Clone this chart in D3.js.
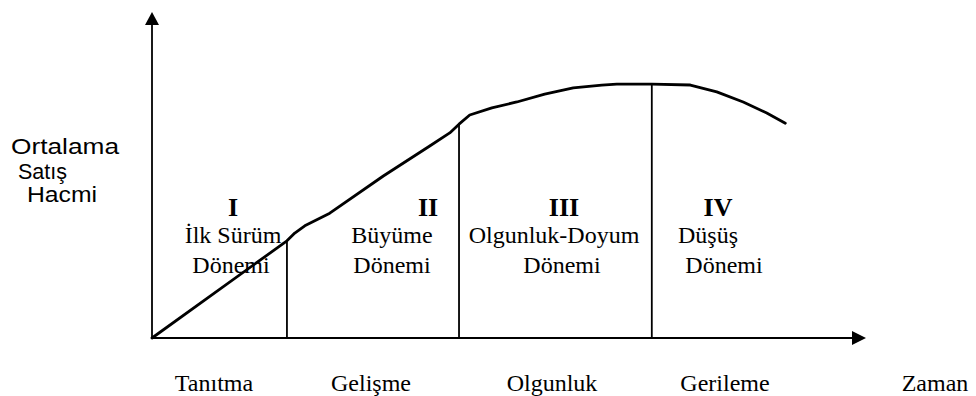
<!DOCTYPE html>
<html>
<head>
<meta charset="utf-8">
<script src="https://cdn.jsdelivr.net/npm/d3@7"></script>
<style>
  html, body { margin: 0; padding: 0; background: #fff; }
  svg { display: block; }
</style>
</head>
<body>
<div id="chart"></div>
<script>
// Product life cycle: average sales volume over time
const curveTime  = [0, 18.9, 20.0, 21.4, 24.9, 32.4, 38.9, 41.7, 43.0, 44.5, 47.6, 51.1, 55.0, 59.0, 63.0, 65.1, 70.0, 75.4, 79.1, 82.8, 86.1, 88.7];
const curveSales = [0, 29.8, 32.2, 34.4, 38.3, 49.7, 58.9, 62.9, 65.6, 68.4, 70.6, 72.4, 74.8, 76.7, 77.6, 77.9, 77.9, 77.6, 75.5, 72.4, 69.0, 65.9];

// Stage boundaries on the time axis
const stageBounds = [18.9, 43.0, 70.0];

const stageNumerals = ["I", "II", "III", "IV"];
const stageNames = [["İlk Sürüm", "Dönemi"], ["Büyüme", "Dönemi"], ["Olgunluk-Doyum", "Dönemi"], ["Düşüş", "Dönemi"]];
const phaseLabels = ["Tanıtma", "Gelişme", "Olgunluk", "Gerileme"];
const timeLabel = "Zaman";
const salesLabel = ["Ortalama", "Satış", "Hacmi"];

const W = 976, H = 396;
const svg = d3.select("#chart").append("svg").attr("width", W).attr("height", H);

const x = d3.scaleLinear().domain([0, 100]).range([152, 866]);
const y = d3.scaleLinear().domain([0, 100]).range([338, 12]);

const serif = "'Liberation Serif', 'Times New Roman', serif";
const sans = "'Liberation Sans', Arial, sans-serif";

// Axes
svg.append("line")
  .attr("x1", x(0)).attr("y1", y(0)).attr("x2", x(0)).attr("y2", y(100) + 10)
  .attr("stroke", "#000").attr("stroke-width", 1.8);
svg.append("path")
  .attr("d", `M${x(0)},${y(100)} L${x(0) - 7},${y(100) + 13} L${x(0) + 7},${y(100) + 13} Z`)
  .attr("fill", "#000");

svg.append("line")
  .attr("x1", x(0)).attr("y1", y(0)).attr("x2", x(100) - 10).attr("y2", y(0))
  .attr("stroke", "#000").attr("stroke-width", 2);
svg.append("path")
  .attr("d", `M${x(100)},${y(0)} L${x(100) - 14},${y(0) - 7} L${x(100) - 14},${y(0) + 7} Z`)
  .attr("fill", "#000");

// Stage dividers, from the axis up to the curve
const pts = curveTime.map((t, i) => [t, curveSales[i]]);
function salesAt(t) {
  for (let i = 1; i < pts.length; i++) {
    if (t <= pts[i][0]) {
      const [t0, s0] = pts[i - 1], [t1, s1] = pts[i];
      return s0 + (s1 - s0) * (t - t0) / (t1 - t0);
    }
  }
  return pts[pts.length - 1][1];
}
svg.selectAll("line.divider").data(stageBounds).enter().append("line")
  .attr("class", "divider")
  .attr("x1", d => x(d)).attr("x2", d => x(d))
  .attr("y1", y(0)).attr("y2", d => y(salesAt(d)))
  .attr("stroke", "#000").attr("stroke-width", 1.8);

// Sales curve
const line = d3.line().x(d => x(d[0])).y(d => y(d[1])).curve(d3.curveLinear);
svg.append("path")
  .datum(pts)
  .attr("d", line)
  .attr("fill", "none")
  .attr("stroke", "#000")
  .attr("stroke-width", 2.8)
  .attr("stroke-linejoin", "round")
  .attr("stroke-linecap", "round");

// Stage numerals and names
const numeralX = [233, 428, 564, 718];
const nameX = [[233, 231], [392, 392], [554, 562], [708, 724]];
svg.selectAll("text.numeral").data(stageNumerals).enter().append("text")
  .attr("class", "numeral")
  .attr("x", (d, i) => numeralX[i]).attr("y", 216)
  .attr("text-anchor", "middle")
  .attr("font-family", serif).attr("font-weight", "bold").attr("font-size", 26)
  .text(d => d);

stageNames.forEach((lines, i) => {
  lines.forEach((txt, j) => {
    svg.append("text")
      .attr("x", nameX[i][j]).attr("y", 243 + j * 30)
      .attr("text-anchor", "middle")
      .attr("font-family", serif).attr("font-size", 24)
      .text(txt);
  });
});

// Phase labels under the time axis
const phaseX = [214, 371, 552, 725];
svg.selectAll("text.phase").data(phaseLabels).enter().append("text")
  .attr("class", "phase")
  .attr("x", (d, i) => phaseX[i]).attr("y", 391)
  .attr("text-anchor", "middle")
  .attr("font-family", serif).attr("font-size", 24)
  .text(d => d);

svg.append("text")
  .attr("x", 935).attr("y", 391)
  .attr("text-anchor", "middle")
  .attr("font-family", serif).attr("font-size", 24)
  .text(timeLabel);

// Vertical axis title
const salesX = [11, 18, 27];
const salesY = [154, 179, 202];
const salesW = [108, 49, 70];
svg.selectAll("text.sales").data(salesLabel).enter().append("text")
  .attr("class", "sales")
  .attr("x", (d, i) => salesX[i]).attr("y", (d, i) => salesY[i])
  .attr("font-family", sans).attr("font-size", 22)
  .attr("textLength", (d, i) => salesW[i])
  .attr("lengthAdjust", "spacingAndGlyphs")
  .text(d => d);
</script>
</body>
</html>
